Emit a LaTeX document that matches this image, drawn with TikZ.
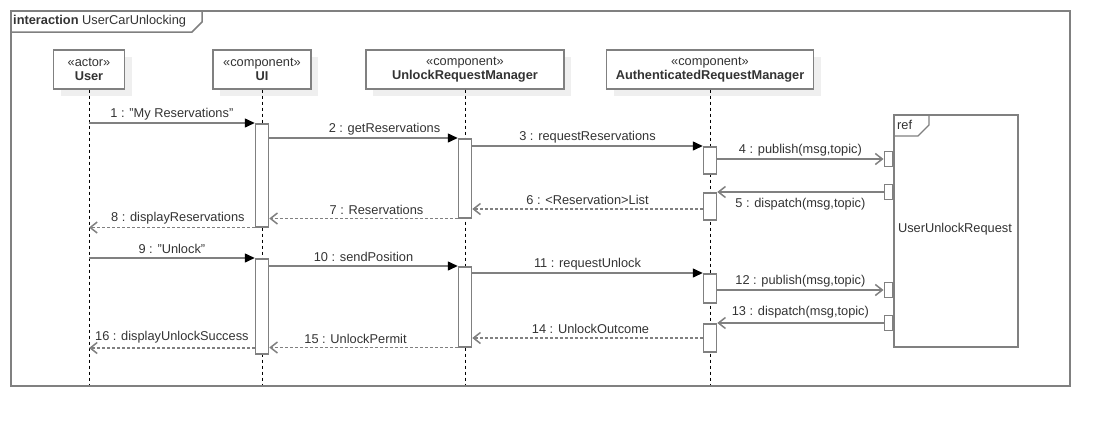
\documentclass[tikz,border=0pt]{standalone}
\usepackage{fontspec}
\setmainfont{Liberation Sans}
\usetikzlibrary{arrows.meta,shadows}
\definecolor{ln}{HTML}{808080}
\definecolor{txt}{HTML}{333333}
\definecolor{shd}{HTML}{EFEFEF}
\begin{document}
\begin{tikzpicture}[x=1pt,y=-1pt,
  every node/.style={font=\fontsize{12.8}{14}\selectfont, text=txt},
  frame/.style={draw=ln, line width=1.5pt, inner sep=0pt},
  head/.style={draw=ln, line width=1.3pt, fill=white, minimum height=39pt, inner sep=0pt, align=center,
    drop shadow={shadow xshift=7pt, shadow yshift=-7pt, fill=shd, opacity=1}},
  life/.style={black, line width=0.9pt, dash pattern=on 3pt off 3pt},
  act/.style={draw=ln, line width=1.5pt, fill=white, minimum width=13pt, inner sep=0pt, anchor=north},
  gate/.style={draw=ln, line width=1.5pt, fill=white, minimum width=8pt, minimum height=15pt, inner sep=0pt, anchor=east},
  sync/.style={draw=ln, line width=1.5pt, -{Triangle[length=10pt,width=9pt,color=black]}},
  async/.style={draw=ln, line width=1.5pt, -{Straight Barb[length=7pt,width=11pt]}},
  reply/.style={draw=ln, line width=1.5pt, dash pattern=on 3pt off 2pt, -{Straight Barb[length=7pt,width=11pt]}},
  lab/.style={midway, yshift=9pt, inner sep=0pt},
  labb/.style={midway, yshift=-12pt, inner sep=0pt}
]
\useasboundingbox (0,0) rectangle (1109,426);
% frame
\node[frame, minimum width=1059pt, minimum height=375pt, anchor=north west] (frame) at (10,10) {};
\draw[draw=ln, line width=1.5pt] (10,32) -- (192,32) -- (202,22) -- (202,10);
\node[anchor=west, inner sep=0pt] (title) at (13,21) {\textbf{interaction} UserCarUnlocking};

% heads
\node[head, minimum width=71pt] (user) at (89,69.5) {«actor»\\\textbf{User}};
\node[head, minimum width=98pt] (ui) at (262,69.5) {«component»\\\textbf{UI}};
\node[head, minimum width=198pt] (urm) at (465,69.5) {«component»\\\textbf{UnlockRequestManager}};
\node[head, minimum width=207pt] (arm) at (710,69.5) {«component»\\\textbf{AuthenticatedRequestManager}};

% lifeline ends
\coordinate (userE) at (89,385);
\coordinate (uiE) at (262,385);
\coordinate (urmE) at (465,385);
\coordinate (armE) at (710,385);
\draw[life] (user.south) -- (userE);
\draw[life] (ui.south) -- (uiE);
\draw[life] (urm.south) -- (urmE);
\draw[life] (arm.south) -- (armE);

% ref box
\node[frame, fill=white, minimum width=124pt, minimum height=232pt, anchor=north west] (ref) at (893,114) {};
\draw[draw=ln, line width=1.3pt] (893,136) -- (918,136) -- (929,125) -- (929,114);
\node[anchor=west, inner sep=0pt] (reflab) at (897,125) {ref};
\node (refname) at (955,229) {UserUnlockRequest};
\node[gate] (g1) at (893,159) {};
\node[gate] (g2) at (893,192) {};
\node[gate] (g3) at (893,290) {};
\node[gate] (g4) at (893,323) {};

% activations
\node[act, minimum height=103pt] (ui1) at (262,123) {};
\node[act, minimum height=79pt] (urm1) at (465,138) {};
\node[act, minimum height=27pt] (arm1) at (710,146) {};
\node[act, minimum height=27pt] (arm2) at (710,192) {};
\node[act, minimum height=95pt] (ui2) at (262,258) {};
\node[act, minimum height=80pt] (urm2) at (465,266) {};
\node[act, minimum height=29pt] (arm3) at (710,273) {};
\node[act, minimum height=28pt] (arm4) at (710,323) {};

% messages
\draw[sync] (user.south |- ui1.north) -- (ui1.north west) node[lab] {1 : "My Reservations"};
\draw[sync] (ui1.east |- urm1.north) -- (urm1.north west) node[lab, xshift=21pt] {2 : getReservations};
\draw[sync] (urm1.east |- arm1.north) -- (arm1.north west) node[lab] {3 : requestReservations};
\draw[async] (arm1.east |- g1) -- (g1.west) node[lab] {4 : publish(msg,topic)};
\draw[async] (g2.west) -- (arm2.north east) node[labb] {5 : dispatch(msg,topic)};
\draw[reply] (arm2.west |- 0,209) -- (urm1.east |- 0,209) node[lab] {6 : <Reservation>List};
\draw[reply] (urm1.south west) -- (ui1.east |- urm1.south) node[lab, xshift=13pt] {7 : Reservations};
\draw[reply] (ui1.south west) -- (user.south |- ui1.south) node[lab, xshift=6pt] {8 : displayReservations};
\draw[sync] (user.south |- ui2.north) -- (ui2.north west) node[lab] {9 : "Unlock"};
\draw[sync] (ui2.east |- urm2.north) -- (urm2.north west) node[lab] {10 : sendPosition};
\draw[sync] (urm2.east |- arm3.north) -- (arm3.north west) node[lab] {11 : requestUnlock};
\draw[async] (arm3.east |- g3) -- (g3.west) node[lab] {12 : publish(msg,topic)};
\draw[async] (g4.west) -- (arm4.north east) node[lab, yshift=2pt] {13 : dispatch(msg,topic)};
\draw[reply] (arm4.west |- 0,338) -- (urm2.east |- 0,338) node[lab, xshift=3pt] {14 : UnlockOutcome};
\draw[reply] (urm2.south west) -- (ui2.east |- urm2.south) node[lab, xshift=-8pt] {15 : UnlockPermit};
\draw[reply] (ui2.west |- 0,348) -- (user.south |- 0,348) node[lab, yshift=2pt] {16 : displayUnlockSuccess};
\end{tikzpicture}
\end{document}
